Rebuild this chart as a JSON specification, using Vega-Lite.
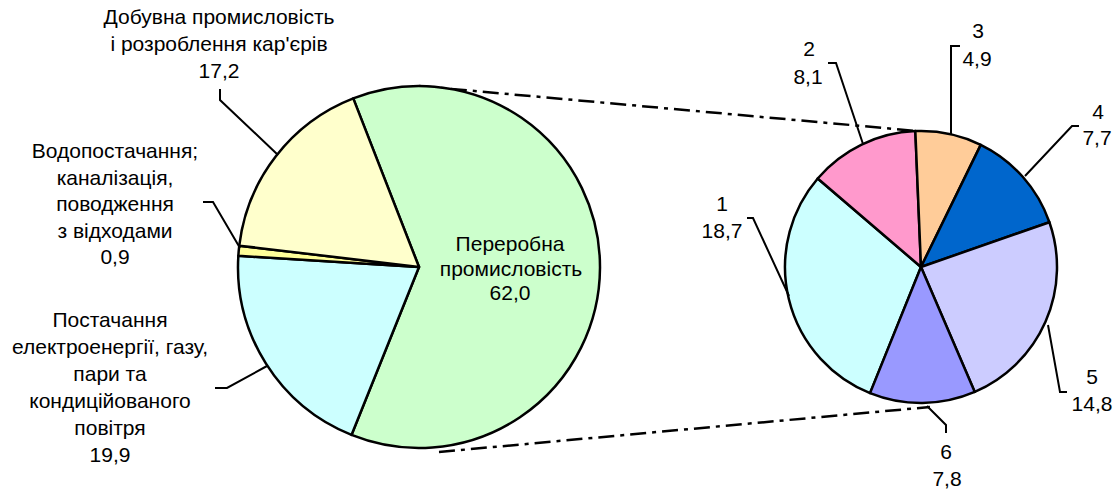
{
  "$schema": "https://vega.github.io/schema/vega-lite/v6.json",
  "width": 1119,
  "height": 493,
  "autosize": {"type": "fit", "contains": "padding"},
  "padding": 0,
  "background": "white",
  "config": {"view": {"stroke": null}},
  "datasets": {
    "main": [
      {"name": "Переробна промисловість", "value": 62.0, "ord": 1},
      {"name": "Постачання електроенергії, газу, пари та кондиційованого повітря", "value": 19.9, "ord": 2},
      {"name": "Водопостачання; каналізація, поводження з відходами", "value": 0.9, "ord": 3},
      {"name": "Добувна промисловість і розроблення кар'єрів", "value": 17.2, "ord": 4}
    ],
    "sub": [
      {"name": "1", "value": 18.7, "ord": 1},
      {"name": "2", "value": 8.1, "ord": 2},
      {"name": "3", "value": 4.9, "ord": 3},
      {"name": "4", "value": 7.7, "ord": 4},
      {"name": "5", "value": 14.8, "ord": 5},
      {"name": "6", "value": 7.8, "ord": 6}
    ],
    "labels": [
      {"t": "Добувна промисловість", "x": 219, "y": 18},
      {"t": "і розроблення кар'єрів", "x": 219, "y": 45},
      {"t": "17,2", "x": 219, "y": 72},
      {"t": "Водопостачання;", "x": 115, "y": 152},
      {"t": "каналізація,", "x": 115, "y": 179},
      {"t": "поводження", "x": 115, "y": 205},
      {"t": "з відходами", "x": 115, "y": 232},
      {"t": "0,9", "x": 115, "y": 258},
      {"t": "Постачання", "x": 110, "y": 321},
      {"t": "електроенергії, газу,", "x": 110, "y": 348},
      {"t": "пари та", "x": 110, "y": 375},
      {"t": "кондиційованого", "x": 110, "y": 402},
      {"t": "повітря", "x": 110, "y": 429},
      {"t": "19,9", "x": 110, "y": 456},
      {"t": "Переробна", "x": 510, "y": 245},
      {"t": "промисловість", "x": 511, "y": 270},
      {"t": "62,0", "x": 510, "y": 294},
      {"t": "1", "x": 722, "y": 205},
      {"t": "18,7", "x": 722, "y": 232},
      {"t": "2", "x": 809, "y": 50},
      {"t": "8,1", "x": 808, "y": 78},
      {"t": "3", "x": 978, "y": 32},
      {"t": "4,9", "x": 977, "y": 60},
      {"t": "4", "x": 1098, "y": 113},
      {"t": "7,7", "x": 1097, "y": 139},
      {"t": "5", "x": 1092, "y": 378},
      {"t": "14,8", "x": 1092, "y": 405},
      {"t": "6", "x": 946, "y": 453},
      {"t": "7,8", "x": 947, "y": 480}
    ],
    "leaders": [
      {"id": "a", "s": 1, "x": 220, "y": 89},
      {"id": "a", "s": 2, "x": 220, "y": 100},
      {"id": "a", "s": 3, "x": 278, "y": 155},
      {"id": "b", "s": 1, "x": 203, "y": 202},
      {"id": "b", "s": 2, "x": 213, "y": 202},
      {"id": "b", "s": 3, "x": 240, "y": 248},
      {"id": "c", "s": 1, "x": 215, "y": 388},
      {"id": "c", "s": 2, "x": 227, "y": 388},
      {"id": "c", "s": 3, "x": 267, "y": 366},
      {"id": "d", "s": 1, "x": 828, "y": 63},
      {"id": "d", "s": 2, "x": 836, "y": 63},
      {"id": "d", "s": 3, "x": 863, "y": 144},
      {"id": "e", "s": 1, "x": 960, "y": 46},
      {"id": "e", "s": 2, "x": 951, "y": 46},
      {"id": "e", "s": 3, "x": 951, "y": 134},
      {"id": "f", "s": 1, "x": 1079, "y": 126},
      {"id": "f", "s": 2, "x": 1072, "y": 126},
      {"id": "f", "s": 3, "x": 1025, "y": 176},
      {"id": "g", "s": 1, "x": 747, "y": 218},
      {"id": "g", "s": 2, "x": 753, "y": 218},
      {"id": "g", "s": 3, "x": 789, "y": 296},
      {"id": "h", "s": 1, "x": 1048, "y": 325},
      {"id": "h", "s": 2, "x": 1060, "y": 392},
      {"id": "h", "s": 3, "x": 1067, "y": 392},
      {"id": "i", "s": 1, "x": 946, "y": 433},
      {"id": "i", "s": 2, "x": 946, "y": 425},
      {"id": "i", "s": 3, "x": 927, "y": 406}
    ],
    "connectors": [
      {"id": "top", "s": 1, "x": 419, "y": 86},
      {"id": "top", "s": 2, "x": 917, "y": 131},
      {"id": "bottom", "s": 1, "x": 439, "y": 452},
      {"id": "bottom", "s": 2, "x": 930, "y": 407}
    ]
  },
  "layer": [
    {
      "data": {"name": "connectors"},
      "mark": {"type": "line", "color": "black", "strokeWidth": 2.5, "strokeDash": [16, 6, 4, 6]},
      "encoding": {
        "x": {"field": "x", "type": "quantitative", "scale": {"domain": [0, 1119], "nice": false, "zero": false}, "axis": null},
        "y": {"field": "y", "type": "quantitative", "scale": {"domain": [0, 493], "nice": false, "zero": false, "reverse": true}, "axis": null},
        "detail": {"field": "id"},
        "order": {"field": "s", "type": "quantitative"}
      }
    },
    {
      "data": {"name": "main"},
      "mark": {"type": "arc", "outerRadius": 181, "stroke": "black", "strokeWidth": 2.5, "strokeJoin": "round"},
      "encoding": {
        "x": {"datum": 419, "type": "quantitative"},
        "y": {"datum": 267, "type": "quantitative"},
        "theta": {"field": "value", "type": "quantitative", "stack": true, "scale": {"range": [-0.3718, 5.9114], "nice": false, "zero": true}},
        "order": {"field": "ord", "type": "quantitative"},
        "color": {
          "field": "name", "type": "nominal", "legend": null,
          "scale": {
            "domain": ["Переробна промисловість", "Постачання електроенергії, газу, пари та кондиційованого повітря", "Водопостачання; каналізація, поводження з відходами", "Добувна промисловість і розроблення кар'єрів"],
            "range": ["#CCFFCC", "#CCFFFF", "#FFFF99", "#FFFFCC"]
          }
        }
      }
    },
    {
      "data": {"name": "sub"},
      "mark": {"type": "arc", "outerRadius": 136, "stroke": "black", "strokeWidth": 2.5, "strokeJoin": "round"},
      "encoding": {
        "x": {"datum": 921, "type": "quantitative"},
        "y": {"datum": 267, "type": "quantitative"},
        "theta": {"field": "value", "type": "quantitative", "stack": true, "scale": {"range": [3.5256, 9.8088], "nice": false, "zero": true}},
        "order": {"field": "ord", "type": "quantitative"},
        "color": {
          "field": "name", "type": "nominal", "legend": null,
          "scale": {
            "domain": ["1", "2", "3", "4", "5", "6"],
            "range": ["#CCFFFF", "#FF99CC", "#FFCC99", "#0066CC", "#CCCCFF", "#9999FF"]
          }
        }
      }
    },
    {
      "data": {"name": "leaders"},
      "mark": {"type": "line", "color": "black", "strokeWidth": 2},
      "encoding": {
        "x": {"field": "x", "type": "quantitative"},
        "y": {"field": "y", "type": "quantitative"},
        "detail": {"field": "id"},
        "order": {"field": "s", "type": "quantitative"}
      }
    },
    {
      "data": {"name": "labels"},
      "mark": {"type": "text", "font": "Liberation Sans", "fontSize": 21, "color": "black", "align": "center", "baseline": "middle"},
      "encoding": {
        "x": {"field": "x", "type": "quantitative"},
        "y": {"field": "y", "type": "quantitative"},
        "text": {"field": "t"}
      }
    }
  ],
  "resolve": {"scale": {"theta": "independent", "color": "independent"}}
}
